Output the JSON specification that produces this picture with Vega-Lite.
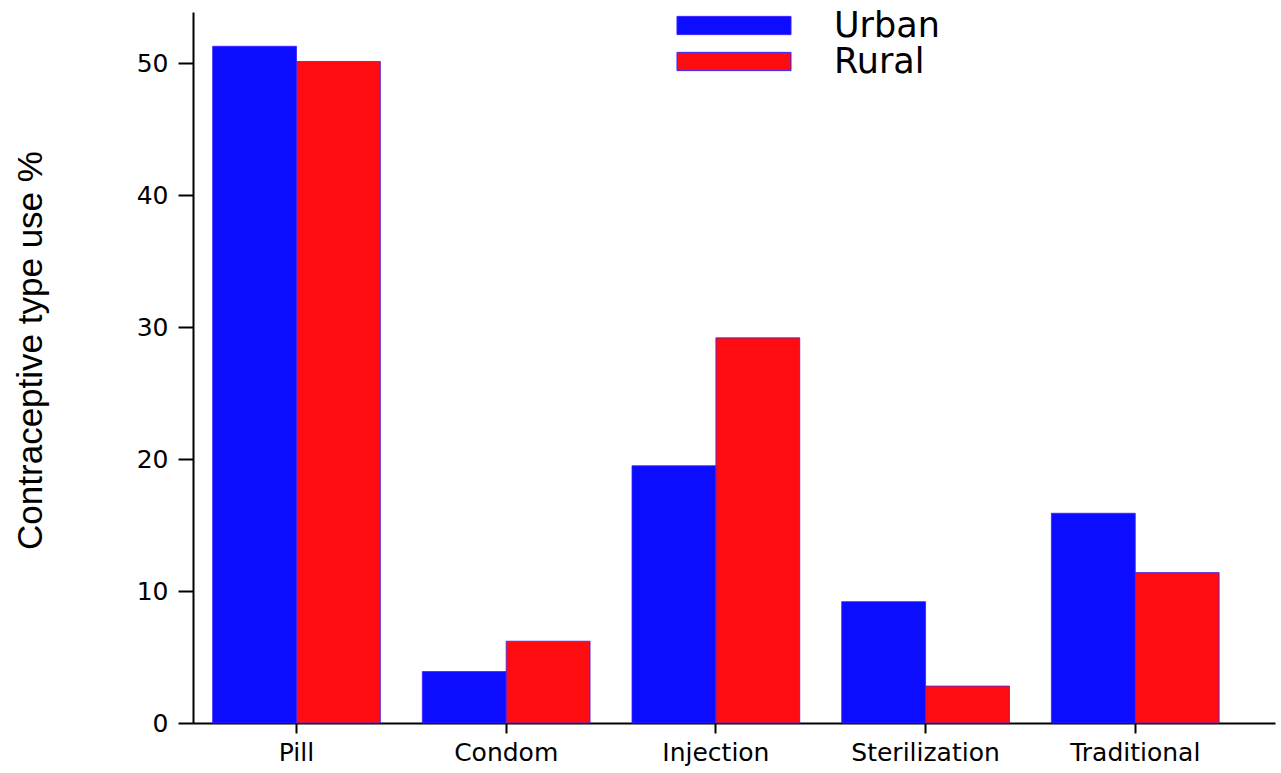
{
  "$schema": "https://vega.github.io/schema/vega-lite/v6.json",
  "width": 1082,
  "height": 711,
  "autosize": "none",
  "padding": {"left": 193, "top": 12, "right": 6, "bottom": 50},
  "background": "white",
  "config": {"view": {"stroke": null}, "font": "Liberation Sans"},
  "data": {"values": [
    {"method": "Pill", "area": "Urban", "pct": 51.3},
    {"method": "Pill", "area": "Rural", "pct": 50.15},
    {"method": "Condom", "area": "Urban", "pct": 3.9},
    {"method": "Condom", "area": "Rural", "pct": 6.2},
    {"method": "Injection", "area": "Urban", "pct": 19.5},
    {"method": "Injection", "area": "Rural", "pct": 29.2},
    {"method": "Sterilization", "area": "Urban", "pct": 9.2},
    {"method": "Sterilization", "area": "Rural", "pct": 2.8},
    {"method": "Traditional", "area": "Urban", "pct": 15.9},
    {"method": "Traditional", "area": "Rural", "pct": 11.4}
  ]},
  "mark": {"type": "bar", "stroke": "#3a20ff", "strokeWidth": 0.8},
  "encoding": {
    "x": {
      "field": "method", "type": "nominal", "sort": null,
      "scale": {"paddingInner": 0.2, "paddingOuter": 0.18, "align": 0.26},
      "axis": {
        "title": null, "labelAngle": 0, "labelFontSize": 25, "labelFont": "DejaVu Sans", "labelColor": "black",
        "labelPadding": 7, "tickSize": 10, "tickWidth": 2, "tickColor": "black",
        "domainColor": "black", "domainWidth": 2,
        "encode": {"labels": {"update": {"dy": {"signal": "datum.value === 'Injection' ? 9 : 0"}}}}
      }
    },
    "xOffset": {"field": "area", "type": "nominal", "sort": ["Urban", "Rural"]},
    "y": {
      "field": "pct", "type": "quantitative",
      "scale": {"domain": [0, 53.9], "nice": false},
      "axis": {
        "title": "Contraceptive type use %", "titleFontSize": 35, "titleFontWeight": "normal",
        "titleColor": "black", "titlePadding": 88, "titleY": 338,
        "values": [0, 10, 20, 30, 40, 50], "grid": false,
        "labelFontSize": 25, "labelFont": "DejaVu Sans", "labelColor": "black", "labelPadding": 10,
        "tickSize": 15, "tickWidth": 2, "tickColor": "black",
        "domainColor": "black", "domainWidth": 2
      }
    },
    "color": {
      "field": "area", "type": "nominal", "sort": ["Urban", "Rural"],
      "scale": {"domain": ["Urban", "Rural"], "range": ["#0c0cff", "#ff0c10"]},
      "legend": {
        "title": null, "orient": "none", "legendX": 483, "legendY": -4,
        "symbolType": "M-1,-0.16H1V0.16H-1Z", "symbolSize": 13000,
        "symbolStrokeColor": "#3a20ff", "symbolStrokeWidth": 1, "symbolOpacity": 1,
        "labelFontSize": 35, "labelFont": "DejaVu Sans", "labelColor": "black", "labelOffset": 42,
        "rowPadding": 0, "clipHeight": 35, "labelLimit": 400
      }
    }
  }
}
